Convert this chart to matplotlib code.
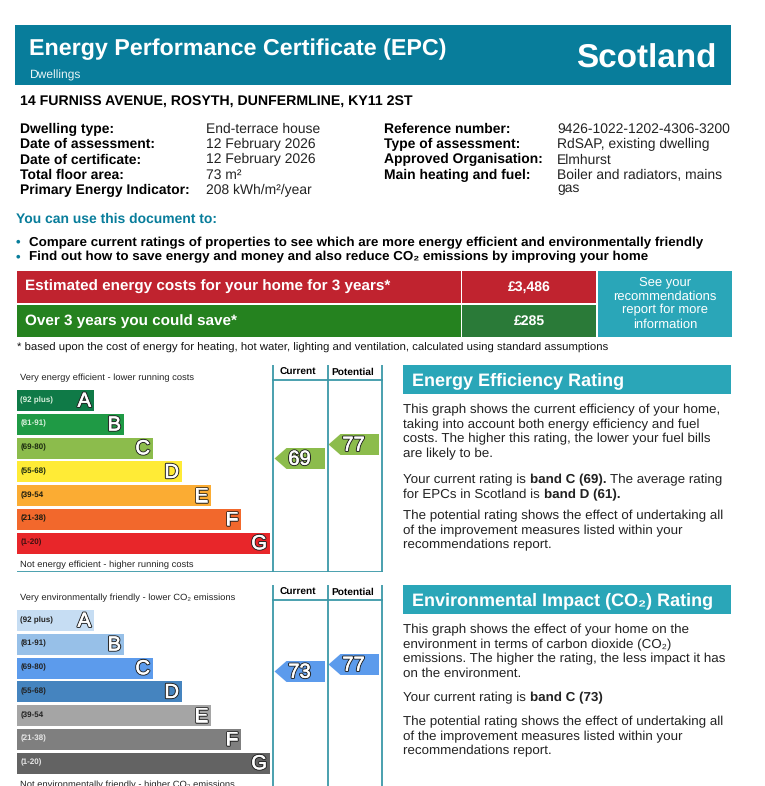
import numpy as np
import matplotlib
matplotlib.use('Agg')
import matplotlib.pyplot as plt
import matplotlib.patheffects as pe

plt.rcParams['font.family'] = ['Liberation Sans', 'DejaVu Sans']
plt.rcParams['text.hinting'] = 'no_hinting'

# data
bands = ['A', 'B', 'C', 'D', 'E', 'F', 'G']
band_ranges = ['(92 plus)', '(81-91)', '(69-80)', '(55-68)', '(39-54', '(21-38)', '(1-20)']
band_lengths = [77, 107, 136, 165, 194, 224, 253]
energy_colors = ['#0f7a47', '#1f9a45', '#8cbc4c', '#ffeb36', '#fbac33', '#f2682c', '#e8262a']
energy_range_colors = ['#d8f0dc', '#d8f0dc', '#1c2a10', '#1c2a10', '#1c1c10', '#1c1c10', '#401010']
env_colors = ['#c6ddf3', '#97c0e8', '#5c9bec', '#4584bf', '#a5a5a5', '#7f7f7f', '#636363']
env_range_colors = ['#222222', '#222222', '#222222', '#222222', '#222222', '#e6e6e6', '#e6e6e6']
energy_current, energy_potential = 69, 77
env_current, env_potential = 73, 77

dwelling_keys = ['Dwelling type:', 'Date of assessment:', 'Date of certificate:',
                 'Total floor area:', 'Primary Energy Indicator:']
dwelling_vals = ['End-terrace house', '12 February 2026', '12 February 2026',
                 '73 m\u00b2', '208 kWh/m\u00b2/year']
ref_keys = ['Reference number:', 'Type of assessment:', 'Approved Organisation:',
            'Main heating and fuel:']
ref_vals = ['9426-1022-1202-4306-3200', 'RdSAP, existing dwelling', 'Elmhurst',
            'Boiler and radiators, mains', 'gas']

TEAL = '#2aa6b8'
DARK_TEAL = '#087d9b'
LINE = '#3c98a8'
W, H = 765, 786

fig = plt.figure(figsize=(W / 100, H / 100), dpi=100, facecolor='white')
page = fig.add_axes([0, 0, 1, 1])
page.set_xlim(0, W)
page.set_ylim(H, 0)
page.axis('off')
renderer = fig.canvas.get_renderer()


def box(x0, y0, x1, y1, color):
    page.fill([x0, x1, x1, x0], [y0, y0, y1, y1], color=color, lw=0)


def txt(x, y, s, px=13.5, bold=False, color='black', **kw):
    # y is the middle of the capitals, text sits on its baseline
    return page.text(x, y + px * 0.36, s, fontsize=px * 0.72, va='baseline',
                     fontweight='bold' if bold else 'normal', color=color, **kw)


def runs(x, y, parts, px, color='#222222'):
    # line with mixed weights, each part starts where the last one ended
    for s, bold in parts:
        t = txt(x, y, s, px, bold, color)
        x += t.get_window_extent(renderer).width + px * 0.28


# header
box(15, 25, 731, 85, DARK_TEAL)
txt(29, 47, 'Energy Performance Certificate (EPC)', 23.3, True, 'white')
txt(29, 74, 'Dwellings', 12, False, '#e8f4f6')
txt(716, 56, 'Scotland', 33.3, True, 'white', ha='right')
txt(20, 100, '14 FURNISS AVENUE, ROSYTH, DUNFERMLINE, KY11 2ST', 14.1, True)

for i, (k, v) in enumerate(zip(dwelling_keys, dwelling_vals)):
    y = 128 + i * 15.2
    txt(20, y, k, 13.9, True)
    txt(206, y, v, 13.9, color='#222222')
for i, k in enumerate(ref_keys):
    txt(384, 128 + i * 15.2, k, 13.9, True)
for i, v in enumerate(ref_vals):
    y = 128 + i * 15.2 if i < 4 else 187.5
    txt(557, y, v, 13.9, color='#222222')

txt(16, 218, 'You can use this document to:', 13.9, True, DARK_TEAL)
txt(16, 241, '\u2022', 13, True, DARK_TEAL)
txt(16, 255.5, '\u2022', 13, True, DARK_TEAL)
txt(29, 241, 'Compare current ratings of properties to see which are more energy '
    'efficient and environmentally friendly', 13.35, True)
txt(29, 255.5, 'Find out how to save energy and money and also reduce CO\u2082 emissions '
    'by improving your home', 13.35, True)

# costs table
box(17, 271, 461, 303, '#c0232f')
box(462, 271, 596, 303, '#c0232f')
box(17, 305, 461, 337, '#25821f')
box(462, 305, 596, 337, '#2a7a38')
box(598, 271, 732, 337, TEAL)
txt(25, 285.5, 'Estimated energy costs for your home for 3 years*', 15.27, True, 'white')
txt(25, 319.5, 'Over 3 years you could save*', 15.27, True, 'white')
txt(529, 285.5, '\u00a33,486', 14, True, 'white', ha='center')
txt(529, 319.5, '\u00a3285', 14, True, 'white', ha='center')
for i, s in enumerate(['See your', 'recommendations', 'report for more', 'information']):
    txt(665, 281 + i * 14, s, 13, False, 'white', ha='center')
txt(17, 347, '* based upon the cost of energy for heating, hot water, lighting and '
    'ventilation, calculated using standard assumptions', 11.38, color='#111111')

outline = [pe.Stroke(linewidth=1.8, foreground='#222222'),
           pe.Stroke(linewidth=0.4, foreground='white'), pe.Normal()]


def draw_chart(top, bar_top, colors, range_colors, cur, pot, rate_y, cur_col,
               head, foot, bottom):
    # axes in pixels, origin at the top of the chart block
    box_h = bottom - top
    ax = fig.add_axes([17 / W, 1 - bottom / H, 365.5 / W, box_h / H])
    ax.set_xlim(0, 365.5)
    ax.set_ylim(box_h, 0)
    ax.axis('off')
    pitch = 23.75
    ys = bar_top - top + 10.5 + np.arange(len(bands)) * pitch
    ax.barh(ys, band_lengths, height=21, left=0, color=colors, lw=0)
    for b, r, ln, y, rc in zip(bands, band_ranges, band_lengths, ys, range_colors):
        ax.text(3.5, y - 0.5, r, fontsize=5.8, fontweight='bold', color=rc, va='center')
        ax.text(ln - 3, y + 1, b, fontsize=14.5, color='white', ha='right', va='center',
                path_effects=outline)
    for x in [256, 310.5, 365]:
        ax.plot([x, x], [0, box_h], color=LINE, lw=1.3, solid_capstyle='butt')
    ax.plot([256, 365], [15, 15], color=LINE, lw=1.3)
    ax.text(281, 7.5, 'Current', fontsize=7.3, fontweight='bold', ha='center', va='center')
    ax.text(335.5, 7.5, 'Potential', fontsize=7.3, fontweight='bold', ha='center', va='center')
    ax.text(3, 15, head, fontsize=6.76, color='#222222', va='baseline')
    ax.text(3, ys[-1] + 24.5, foot, fontsize=6.76, color='#222222', va='baseline')
    for val, x0 in [(cur, 257.5), (pot, 311.5)]:
        # the arrows sit on a rating scale, 1.75 px per point
        y = rate_y - top - 1.75 * (val - 69)
        ax.fill([x0, x0 + 12, x0 + 50.5, x0 + 50.5, x0 + 12],
                [y, y - 10.5, y - 10.5, y + 10.5, y + 10.5], color=cur_col, lw=0)
        ax.text(x0 + 25, y + 1, str(val), fontsize=14.5, color='white', ha='center', va='center',
                path_effects=outline)
    return ax


ax1 = draw_chart(365, 390, energy_colors, energy_range_colors, energy_current,
                 energy_potential, 458.5, '#8cbc4c',
                 'Very energy efficient - lower running costs',
                 'Not energy efficient - higher running costs', 572)
ax1.plot([0, 365], [207, 207], color=LINE, lw=1.3)
draw_chart(585, 610, env_colors, env_range_colors, env_current, env_potential,
           678.5, '#5c9bec',
           'Very environmentally friendly - lower CO\u2082 emissions',
           'Not environmentally friendly - higher CO\u2082 emissions', 786)

# right column
box(403, 365, 731, 394, TEAL)
txt(412, 379, 'Energy Efficiency Rating', 18, True, 'white')
box(403, 585, 731, 614, TEAL)
txt(412, 599, 'Environmental Impact (CO\u2082) Rating', 18, True, 'white')

right_top = [
    (408.5, 'This graph shows the current efficiency of your home,'),
    (423, 'taking into account both energy efficiency and fuel'),
    (437.5, 'costs. The higher this rating, the lower your fuel bills'),
    (452, 'are likely to be.'),
    (514, 'The potential rating shows the effect of undertaking all'),
    (529, 'of the improvement measures listed within your'),
    (543.5, 'recommendations report.'),
]
right_bottom = [
    (628.5, 'This graph shows the effect of your home on the'),
    (643, 'environment in terms of carbon dioxide (CO\u2082)'),
    (657.5, 'emissions. The higher the rating, the less impact it has'),
    (672, 'on the environment.'),
    (720.5, 'The potential rating shows the effect of undertaking all'),
    (735, 'of the improvement measures listed within your'),
    (749.5, 'recommendations report.'),
]
for y, s in right_top + right_bottom:
    txt(403, y, s, 13.4, color='#222222')
runs(403, 478.5, [('Your current rating is', False), ('band C (69).', True),
                  ('The average rating', False)], 13.4)
runs(403, 493, [('for EPCs in Scotland is', False), ('band D (61).', True)], 13.4)
runs(403, 696.5, [('Your current rating is', False), ('band C (73)', True)], 13.4)

fig.savefig('out.png', dpi=100, facecolor='white')
